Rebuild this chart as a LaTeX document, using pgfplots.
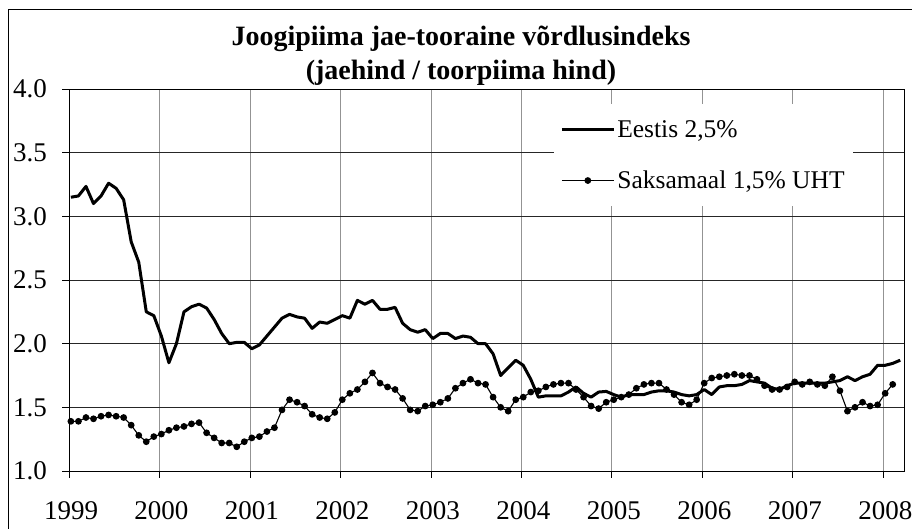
\documentclass[border=0pt]{standalone}
\usepackage{fontspec}
\setmainfont{Liberation Serif}
\usepackage{pgfplots}
\usepackage{pgfplotstable}
\pgfplotsset{compat=1.18}

\pgfplotstableread{
v
3.15
3.16
3.235
3.10
3.16
3.26
3.22
3.13
2.80
2.64
2.25
2.22
2.06
1.85
2.00
2.25
2.29
2.31
2.28
2.19
2.08
2.00
2.01
2.01
1.96
1.99
2.06
2.13
2.20
2.23
2.21
2.20
2.12
2.17
2.16
2.19
2.22
2.20
2.34
2.31
2.34
2.27
2.27
2.285
2.16
2.11
2.09
2.11
2.04
2.08
2.08
2.04
2.06
2.05
2.00
2.00
1.92
1.75
1.81
1.87
1.83
1.72
1.58
1.59
1.59
1.59
1.62
1.66
1.61
1.58
1.62
1.625
1.60
1.58
1.60
1.60
1.60
1.62
1.63
1.63
1.62
1.60
1.59
1.60
1.64
1.60
1.66
1.67
1.67
1.68
1.71
1.70
1.69
1.65
1.64
1.67
1.69
1.69
1.69
1.69
1.69
1.70
1.71
1.74
1.71
1.74
1.76
1.83
1.83
1.845
1.87
}\eestis

\pgfplotstableread{
v
1.39
1.39
1.42
1.41
1.43
1.44
1.43
1.42
1.36
1.28
1.23
1.27
1.29
1.32
1.34
1.35
1.37
1.38
1.30
1.26
1.22
1.22
1.19
1.23
1.26
1.27
1.31
1.34
1.48
1.56
1.54
1.51
1.445
1.42
1.41
1.46
1.56
1.61
1.64
1.70
1.77
1.69
1.66
1.64
1.57
1.48
1.47
1.51
1.52
1.54
1.57
1.65
1.69
1.72
1.69
1.68
1.58
1.50
1.47
1.56
1.58
1.62
1.63
1.66
1.68
1.69
1.69
1.64
1.58
1.51
1.49
1.54
1.56
1.58
1.60
1.65
1.68
1.69
1.69
1.64
1.60
1.54
1.52
1.56
1.69
1.73
1.74
1.75
1.76
1.75
1.75
1.72
1.67
1.64
1.64
1.66
1.70
1.68
1.70
1.68
1.67
1.74
1.63
1.47
1.50
1.54
1.51
1.52
1.61
1.68
}\saksa

\begin{document}
\begin{tikzpicture}
\useasboundingbox (0pt,0pt) rectangle (912pt,529pt);
\draw[line width=1pt] (8pt,-20pt) -- (8pt,519pt) -- (940pt,519pt);
\node[anchor=base, font=\bfseries\fontsize{28}{34}\selectfont] at (461pt,483pt) {Joogipiima jae-tooraine võrdlusindeks};
\node[anchor=base, font=\bfseries\fontsize{28}{34}\selectfont] at (461pt,449pt) {(jaehind / toorpiima hind)};
\begin{axis}[
  at={(69pt,58pt)}, anchor=south west,
  scale only axis, width=835pt, height=382pt,
  xmin=-0.25, xmax=110.5,
  ymin=1, ymax=4,
  xtick={-0.25,11.75,23.75,35.75,47.75,59.75,71.75,83.75,95.75,107.75},
  xticklabels={1999,2000,2001,2002,2003,2004,2005,2006,2007,2008},
  ytick={1,1.5,2,2.5,3,3.5,4},
  yticklabel={\pgfmathprintnumber[fixed,fixed zerofill,precision=1]{\tick}},
  /pgf/number format/assume math mode=true,
  tick pos=left, tick align=outside,
  major tick length=7pt,
  tick style={black, line width=0.8pt},
  xmajorgrids, ymajorgrids,
  major x grid style={gray!85, line width=0.8pt},
  major y grid style={black!85, line width=0.8pt},
  axis line style={black, line width=0.9pt},
  ticklabel style={font=\fontsize{27}{32}\selectfont, inner sep=0pt},
  yticklabel style={anchor=east, xshift=-15pt},
  xticklabel style={anchor=north, yshift=-23pt, xshift=2pt},
  legend style={at={(0.581,0.960)}, anchor=north west, draw=none, fill=white,
    font=\fontsize{25.5}{30}\selectfont, inner xsep=6pt, inner ysep=14pt,
    row sep=28pt},
  legend cell align=left,
  legend image code/.code={\draw[mark repeat=2,mark phase=2,#1] plot coordinates {(0pt,0pt) (26pt,0pt) (52pt,0pt)};},
  clip=false,
]
\addplot[black, line width=3pt, line join=round, legend image post style={line width=3pt}] table[x expr=\coordindex, y=v] {\eestis};
\addlegendentry{Eestis 2,5\%}
\addplot[black, line width=1.1pt, mark=*, mark size=2.8pt, mark options={solid}] table[x expr=\coordindex, y=v] {\saksa};
\addlegendentry{Saksamaal 1,5\% UHT}
\end{axis}
\end{tikzpicture}
\end{document}
